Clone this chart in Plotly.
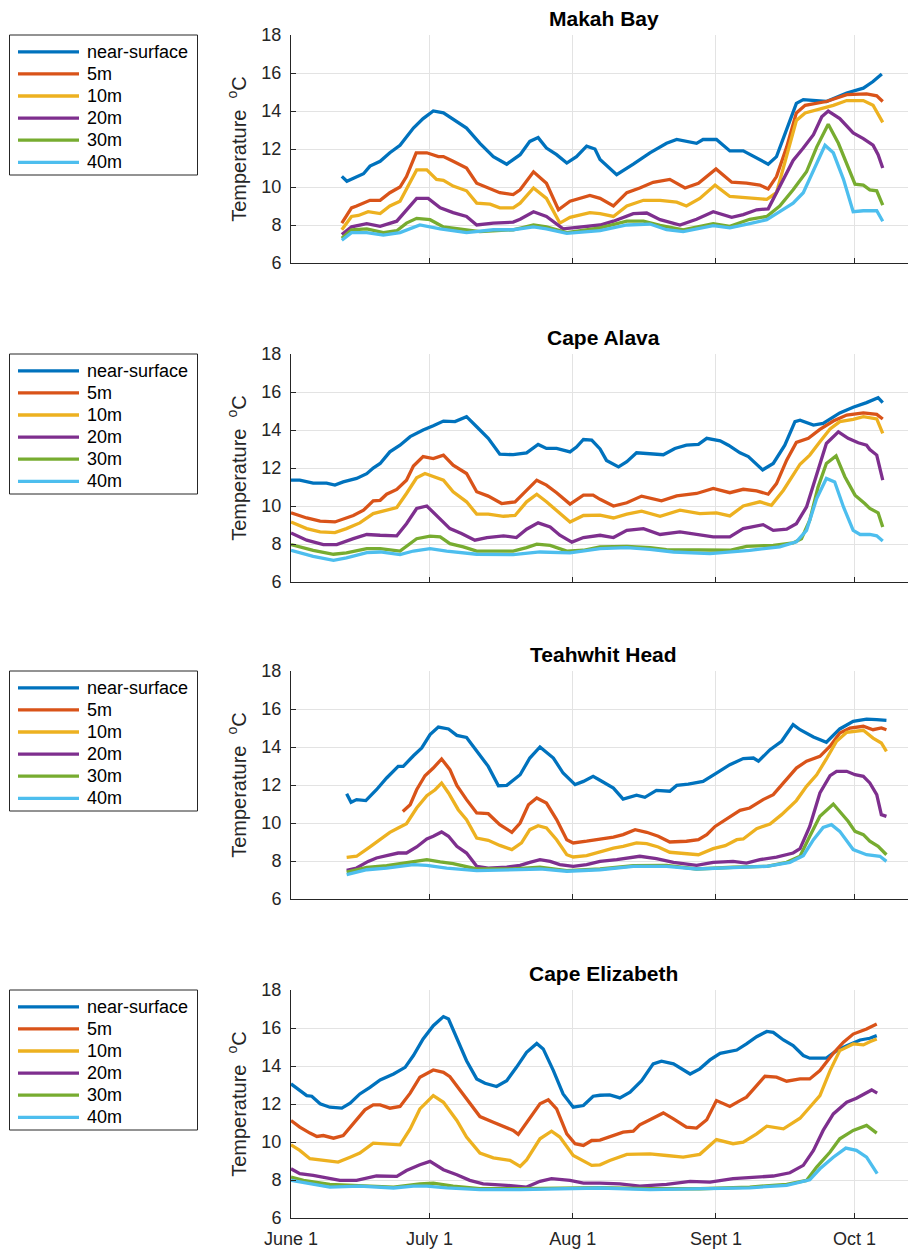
import plotly.graph_objects as go

# ---------------- data (day = days after June 1, temperature in degC) -------------
SITES = ["Makah Bay", "Cape Alava", "Teahwhit Head", "Cape Elizabeth"]
DEPTHS = ["near-surface", "5m", "10m", "20m", "30m", "40m"]
TICK_DAYS = [0, 30, 61, 92, 122]
TICK_TEXT = ["June 1", "July 1", "Aug 1", "Sept 1", "Oct 1"]
Y_TICKS = [6, 8, 10, 12, 14, 16, 18]

MAKAH_SURF = [(11.0,10.56),(12.1,10.3),(15.7,10.7),(17.1,11.1),(19.3,11.35),(21.4,11.8),(23.6,12.2),(26.5,13.1),(28.6,13.6),(30.8,14.0),(33.0,13.9),(35.1,13.55),(38.0,13.1),(40.9,12.3),(43.8,11.6),(46.7,11.2),(49.6,11.7),(51.7,12.4),(53.5,12.6),(55.3,12.05),(57.5,11.7),(59.7,11.26),(61.8,11.6),(64.0,12.15),(65.8,12.0),(66.9,11.45),(70.5,10.65),(74.1,11.2),(77.7,11.8),(81.3,12.3),(83.5,12.5),(87.8,12.3),(89.2,12.5),(92.1,12.5),(95.0,11.9),(97.9,11.9),(100.8,11.5),(103.3,11.2),(105.1,11.6),(107.3,13.0),(109.4,14.4),(110.9,14.6),(115.9,14.5),(120.3,14.95),(123.9,15.2),(126.0,15.55),(127.9,15.95)]
MAKAH_5M = [(11.0,8.1),(13.1,8.9),(14.2,9.0),(17.1,9.3),(19.3,9.3),(21.4,9.7),(23.6,10.0),(25.0,10.55),(27.1,11.8),(29.4,11.8),(31.9,11.6),(33.0,11.6),(35.1,11.35),(38.0,11.0),(40.2,10.2),(42.4,10.0),(45.2,9.7),(48.1,9.6),(49.6,9.85),(52.5,10.8),(55.3,10.2),(57.9,8.8),(60.4,9.25),(64.7,9.56),(66.9,9.4),(69.8,9.0),(72.7,9.7),(75.5,9.95),(78.4,10.25),(82.0,10.4),(85.3,9.95),(88.2,10.2),(92.0,10.95),(95.4,10.25),(98.6,10.2),(101.5,10.1),(103.3,9.9),(105.1,10.55),(107.3,12.1),(109.4,13.9),(111.3,14.3),(115.9,14.5),(120.3,14.86),(124.6,14.9),(126.8,14.8),(128.1,14.5)]
MAKAH_10M = [(11.0,7.75),(13.1,8.45),(14.6,8.5),(16.7,8.7),(19.3,8.6),(21.4,9.0),(23.6,9.25),(25.4,10.05),(27.2,10.9),(29.4,10.9),(31.5,10.4),(33.0,10.35),(35.1,10.05),(38.0,9.8),(40.2,9.15),(43.1,9.1),(45.2,8.9),(48.1,8.9),(49.6,9.15),(52.5,9.95),(55.3,9.4),(58.2,8.1),(60.4,8.4),(64.7,8.65),(66.9,8.6),(69.8,8.45),(72.7,9.0),(76.3,9.3),(79.9,9.3),(83.5,9.2),(85.6,9.0),(88.5,9.4),(91.8,10.1),(95.0,9.5),(99.3,9.4),(103.0,9.35),(105.1,9.7),(107.3,11.6),(109.4,13.5),(111.3,13.9),(114.5,14.1),(117.4,14.3),(120.3,14.55),(123.9,14.55),(126.0,14.3),(128.1,13.4)]
MAKAH_20M = [(11.0,7.5),(13.1,7.9),(16.4,8.07),(19.3,7.93),(22.9,8.2),(25.0,8.8),(27.2,9.4),(29.7,9.4),(32.3,8.9),(35.1,8.65),(38.0,8.45),(40.2,8.0),(43.8,8.1),(48.1,8.15),(49.6,8.3),(52.5,8.7),(55.3,8.45),(58.9,7.8),(62.6,7.9),(66.9,8.0),(69.8,8.2),(74.1,8.6),(77.0,8.63),(79.9,8.28),(84.2,8.0),(87.8,8.3),(91.4,8.7),(95.4,8.4),(97.9,8.55),(100.8,8.8),(103.3,8.85),(105.8,10.0),(108.7,11.4),(110.9,12.05),(113.1,12.75),(114.9,13.7),(116.3,14.0),(118.8,13.6),(121.7,12.85),(123.9,12.55),(126.0,12.2),(127.1,11.7),(128.1,11.0)]
MAKAH_30M = [(11.0,7.3),(13.1,7.75),(16.4,7.8),(20.0,7.6),(22.9,7.7),(25.0,8.1),(27.2,8.35),(30.1,8.28),(33.0,7.9),(36.6,7.8),(40.9,7.65),(48.1,7.75),(52.5,8.0),(55.3,7.9),(59.7,7.6),(66.9,7.85),(72.7,8.2),(76.3,8.2),(79.9,7.98),(84.9,7.75),(91.4,8.07),(95.0,7.93),(99.3,8.3),(103.0,8.45),(105.8,9.0),(108.7,9.85),(111.6,10.8),(113.8,12.1),(116.3,13.3),(118.5,12.3),(120.6,11.0),(122.1,10.15),(123.9,10.1),(125.3,9.85),(126.8,9.8),(128.1,9.05)]
MAKAH_40M = [(11.0,7.2),(13.1,7.6),(16.4,7.6),(20.0,7.47),(23.6,7.6),(27.9,8.0),(32.3,7.8),(38.0,7.6),(43.8,7.75),(48.1,7.75),(52.5,7.9),(55.3,7.8),(59.7,7.56),(66.9,7.7),(72.7,8.0),(77.7,8.05),(81.3,7.75),(84.9,7.65),(91.4,7.97),(95.0,7.85),(99.3,8.07),(103.0,8.28),(105.8,8.7),(108.7,9.15),(110.9,9.7),(113.1,10.9),(115.6,12.2),(117.4,11.8),(119.6,10.4),(121.7,8.7),(123.9,8.75),(126.8,8.75),(128.1,8.2)]

ALAVA_SURF = [(0,11.36),(1.9,11.36),(4.8,11.2),(7.7,11.2),(9.5,11.1),(11.3,11.27),(14.2,11.45),(16.4,11.7),(17.8,12.0),(19.3,12.24),(21.4,12.85),(23.6,13.2),(25.8,13.65),(28.6,14.0),(30.8,14.22),(33.0,14.47),(35.5,14.44),(38.0,14.7),(40.2,14.17),(42.7,13.56),(45.2,12.73),(48.1,12.7),(51.0,12.8),(53.5,13.24),(55.3,13.03),(57.5,13.03),(60.4,12.85),(61.8,13.1),(63.3,13.5),(65.1,13.47),(66.9,13.0),(68.3,12.4),(70.9,12.06),(72.7,12.33),(74.8,12.8),(77.7,12.73),(80.6,12.7),(83.1,13.03),(85.6,13.2),(88.2,13.24),(90.0,13.56),(92.9,13.43),(94.7,13.2),(97.2,12.8),(99.0,12.6),(102.1,11.9),(104.4,12.24),(106.9,13.2),(109.1,14.44),(110.2,14.52),(113.1,14.26),(115.2,14.35),(118.8,14.9),(121.7,15.2),(124.6,15.44),(127.1,15.7),(128.1,15.44)]
ALAVA_5M = [(0,9.64),(3.4,9.37),(6.3,9.2),(9.5,9.16),(13.5,9.5),(15.7,9.78),(17.8,10.27),(19.3,10.3),(20.7,10.62),(22.9,10.87),(25.0,11.36),(26.5,12.1),(28.6,12.6),(30.8,12.5),(33.0,12.68),(35.1,12.15),(38.0,11.71),(40.2,10.75),(42.7,10.52),(45.6,10.13),(48.5,10.22),(51.0,10.83),(53.2,11.36),(55.3,11.1),(57.5,10.7),(60.4,10.1),(63.3,10.57),(65.4,10.57),(66.9,10.35),(69.8,10.0),(72.7,10.17),(75.9,10.52),(80.2,10.27),(83.5,10.53),(87.8,10.66),(91.4,10.92),(95.0,10.7),(97.9,10.88),(100.8,10.8),(103.3,10.62),(105.1,11.18),(107.3,12.41),(109.4,13.35),(112.0,13.56),(114.5,14.03),(117.4,14.47),(120.3,14.79),(123.9,14.9),(126.8,14.82),(128.1,14.58)]
ALAVA_10M = [(0,9.16),(3.4,8.81),(6.3,8.64),(9.5,8.6),(12.0,8.81),(14.9,9.11),(17.8,9.6),(20.7,9.78),(22.9,9.92),(25.0,10.66),(27.2,11.48),(29.0,11.71),(30.8,11.54),(33.0,11.36),(35.1,10.75),(38.0,10.22),(40.2,9.57),(42.7,9.57),(46.0,9.46),(48.5,9.5),(51.0,10.22),(53.2,10.62),(55.3,10.22),(57.5,9.78),(60.4,9.16),(63.3,9.5),(66.9,9.52),(69.8,9.37),(72.7,9.57),(75.9,9.73),(79.9,9.46),(84.2,9.78),(88.5,9.6),(92.1,9.64),(95.0,9.48),(97.9,10.0),(101.5,10.22),(104.0,10.04),(106.6,10.83),(110.2,12.2),(112.3,12.68),(114.5,13.38),(116.7,14.05),(118.8,14.44),(121.7,14.56),(123.9,14.7),(126.8,14.58),(128.1,13.82)]
ALAVA_20M = [(0,8.58),(3.4,8.2),(7.0,7.97),(9.9,7.97),(13.5,8.28),(16.4,8.5),(19.3,8.46),(22.9,8.43),(25.0,9.07),(27.2,9.87),(29.4,10.0),(31.5,9.51),(34.4,8.81),(36.9,8.55),(39.8,8.2),(42.4,8.34),(46.0,8.43),(48.8,8.34),(51.0,8.78),(53.5,9.11),(56.1,8.9),(58.2,8.46),(60.8,8.1),(63.3,8.34),(66.9,8.46),(69.8,8.34),(72.7,8.72),(76.3,8.81),(79.9,8.5),(84.2,8.64),(87.8,8.5),(91.4,8.37),(95.0,8.37),(97.9,8.81),(102.2,9.02),(104.4,8.72),(107.3,8.78),(109.4,9.07),(111.6,9.95),(113.8,11.71),(115.9,13.29),(118.5,13.9),(120.6,13.56),(122.8,13.33),(124.6,13.2),(125.3,12.97),(126.8,12.68),(128.1,11.36)]
ALAVA_30M = [(0,7.97),(4.8,7.67),(9.2,7.46),(12.0,7.53),(16.4,7.76),(19.3,7.76),(23.6,7.63),(27.2,8.28),(30.1,8.41),(32.3,8.37),(34.4,8.02),(37.3,7.85),(40.2,7.63),(44.5,7.62),(48.1,7.63),(51.0,7.81),(53.2,7.99),(56.1,7.93),(59.7,7.63),(63.3,7.67),(66.9,7.85),(72.7,7.88),(77.7,7.81),(81.3,7.7),(88.5,7.67),(95.0,7.67),(98.6,7.88),(104.4,7.93),(108.7,8.06),(110.5,8.28),(112.3,9.25),(114.1,11.0),(115.9,12.24),(118.0,12.64),(119.9,11.54),(122.1,10.57),(124.2,10.13),(125.3,9.87),(127.1,9.64),(128.1,8.9)]
ALAVA_40M = [(0,7.67),(4.8,7.35),(9.2,7.14),(12.0,7.27),(16.4,7.55),(19.3,7.58),(23.6,7.44),(26.5,7.63),(30.1,7.76),(33.7,7.63),(40.2,7.46),(48.1,7.44),(53.9,7.58),(60.4,7.53),(66.9,7.76),(72.7,7.81),(77.7,7.72),(82.8,7.58),(90.7,7.49),(99.3,7.67),(105.8,7.85),(109.4,8.11),(111.6,8.72),(113.8,10.39),(115.9,11.45),(117.7,11.27),(119.6,9.95),(121.7,8.72),(123.2,8.5),(125.3,8.5),(126.8,8.43),(128.1,8.16)]

TEAH_SURF = [(12.05,11.54),(13.0,11.09),(14.2,11.23),(16.2,11.18),(18.5,11.75),(20.7,12.37),(23.2,12.98),(24.3,12.98),(26.5,13.54),(28.3,13.95),(30.1,14.65),(31.9,15.05),(34.1,14.95),(35.9,14.61),(38.0,14.5),(40.2,13.77),(42.7,12.98),(44.9,11.96),(46.7,11.98),(49.6,12.54),(51.7,13.42),(53.9,14.0),(56.8,13.42),(58.9,12.63),(61.5,12.02),(63.3,12.19),(65.4,12.46),(66.9,12.25),(69.8,11.84),(71.9,11.26),(74.8,11.46),(76.6,11.35),(79.1,11.72),(82.0,11.67),(83.5,11.98),(86.0,12.05),(89.2,12.19),(92.1,12.63),(95.0,13.07),(97.9,13.39),(100.1,13.42),(101.2,13.25),(103.7,13.86),(106.2,14.3),(108.7,15.18),(110.2,14.91),(113.1,14.53),(115.9,14.25),(118.8,14.95),(121.7,15.35),(124.6,15.47),(126.8,15.44),(128.9,15.4)]
TEAH_5M = [(24.2,10.61),(25.8,10.96),(27.2,11.75),(29.0,12.49),(30.8,12.89),(32.6,13.37),(34.4,12.81),(35.9,11.98),(38.0,11.23),(40.2,10.53),(42.7,10.49),(45.2,9.91),(47.8,9.51),(49.6,10.0),(51.4,10.96),(53.2,11.32),(55.3,11.05),(57.5,10.18),(59.7,9.12),(61.1,8.95),(64.0,9.04),(66.2,9.12),(69.8,9.26),(71.9,9.39),(74.5,9.65),(77.0,9.51),(79.5,9.3),(82.0,9.0),(85.6,9.04),(88.2,9.12),(90.0,9.39),(91.8,9.82),(94.0,10.18),(97.2,10.67),(99.3,10.79),(102.2,11.23),(104.4,11.49),(106.9,12.19),(109.4,12.89),(111.6,13.25),(114.5,13.51),(116.7,14.04),(118.8,14.74),(121.0,15.0),(123.9,15.09),(126.0,14.91),(127.8,15.0),(128.9,14.91)]
TEAH_10M = [(12.05,8.19),(14.2,8.25),(17.1,8.74),(19.3,9.12),(21.4,9.51),(23.2,9.74),(25.0,9.96),(27.2,10.79),(29.4,11.44),(31.2,11.75),(32.6,12.1),(34.1,11.58),(36.2,10.7),(38.0,10.18),(40.2,9.21),(42.7,9.09),(45.2,8.82),(47.8,8.6),(49.9,8.95),(51.7,9.65),(53.5,9.86),(55.3,9.74),(57.5,9.12),(59.7,8.33),(61.1,8.21),(64.0,8.28),(66.9,8.47),(69.8,8.68),(71.9,8.77),(74.8,8.95),(77.0,8.91),(79.5,8.74),(82.0,8.46),(84.9,8.39),(88.2,8.33),(91.4,8.65),(94.0,8.81),(96.5,9.12),(97.9,9.16),(100.8,9.7),(103.7,9.95),(106.2,10.44),(109.4,11.18),(111.6,11.93),(113.8,12.54),(115.9,13.37),(118.1,14.3),(120.3,14.77),(122.4,14.82),(123.9,14.88),(126.0,14.47),(127.8,14.21),(128.9,13.77)]
TEAH_20M = [(12.05,7.51),(14.2,7.63),(16.7,7.98),(18.5,8.16),(20.7,8.28),(23.2,8.42),(25.0,8.42),(27.2,8.74),(29.4,9.16),(30.8,9.3),(32.6,9.53),(34.1,9.3),(35.9,8.77),(38.0,8.42),(40.2,7.72),(42.7,7.63),(46.7,7.68),(49.6,7.77),(51.7,7.93),(53.9,8.07),(56.1,7.98),(58.2,7.81),(61.1,7.72),(64.0,7.81),(66.9,7.98),(70.5,8.07),(75.5,8.25),(79.1,8.12),(82.8,7.93),(87.8,7.77),(91.4,7.93),(95.7,7.98),(98.6,7.89),(101.5,8.07),(105.1,8.21),(108.7,8.42),(110.2,8.65),(112.3,9.82),(114.5,11.58),(116.7,12.49),(118.1,12.72),(120.3,12.72),(122.1,12.54),(123.9,12.46),(125.3,12.11),(126.8,11.49),(127.8,10.44),(128.9,10.35)]
TEAH_30M = [(12.05,7.42),(16.4,7.67),(20.7,7.75),(25.0,7.89),(29.4,8.07),(32.3,7.95),(35.1,7.86),(40.2,7.58),(48.1,7.58),(53.9,7.67),(59.7,7.49),(66.9,7.58),(74.1,7.75),(81.3,7.77),(87.8,7.58),(95.7,7.67),(103.0,7.72),(107.3,7.93),(110.2,8.25),(112.3,9.3),(114.5,10.35),(117.4,11.0),(118.8,10.61),(120.6,10.09),(122.1,9.56),(123.9,9.39),(125.3,9.04),(127.1,8.77),(128.9,8.33)]
TEAH_40M = [(12.05,7.28),(16.4,7.54),(20.7,7.63),(26.5,7.81),(29.4,7.77),(33.7,7.63),(40.2,7.49),(48.1,7.54),(53.9,7.58),(59.7,7.46),(66.9,7.54),(74.1,7.72),(81.3,7.72),(87.8,7.58),(95.7,7.67),(103.0,7.72),(108.0,7.93),(110.9,8.28),(113.1,9.12),(115.2,9.77),(117.0,9.91),(118.8,9.56),(121.7,8.6),(124.6,8.33),(127.5,8.25),(128.9,7.98)]

ELIZ_SURF = [(0,13.06),(1.9,12.71),(3.4,12.44),(4.5,12.41),(6.3,12.01),(8.4,11.83),(11.0,11.78),(12.8,12.04),(14.9,12.53),(17.1,12.88),(19.3,13.27),(22.2,13.58),(24.7,13.93),(26.5,14.55),(28.6,15.42),(30.8,16.12),(33.0,16.6),(34.1,16.47),(35.9,15.42),(38.0,14.28),(40.2,13.32),(42.0,13.09),(44.5,12.92),(46.7,13.23),(48.8,13.93),(51.0,14.72),(53.2,15.19),(54.6,14.9),(56.8,13.76),(58.9,12.53),(61.1,11.83),(63.3,11.92),(65.4,12.41),(66.9,12.46),(69.0,12.48),(71.2,12.32),(73.4,12.62),(75.9,13.23),(78.4,14.11),(80.2,14.25),(82.8,14.11),(86.4,13.58),(88.5,13.85),(90.7,14.32),(92.9,14.67),(96.5,14.84),(98.6,15.16),(100.8,15.54),(103.0,15.82),(104.4,15.77),(106.6,15.37),(108.7,15.07),(110.9,14.55),(112.3,14.41),(115.9,14.42),(118.1,14.81),(120.3,15.07),(123.2,15.37),(125.3,15.46),(126.8,15.6)]
ELIZ_5M = [(0,11.13),(1.9,10.78),(4.1,10.47),(5.6,10.29),(7.0,10.34),(9.2,10.2),(11.3,10.34),(13.5,10.96),(16.0,11.69),(17.8,11.95),(19.3,11.95),(21.4,11.78),(23.6,11.87),(25.8,12.57),(27.9,13.41),(30.8,13.79),(33.0,13.67),(34.4,13.44),(36.6,12.71),(38.7,12.01),(40.9,11.34),(43.8,11.04),(46.7,10.78),(48.1,10.61),(49.2,10.4),(51.0,11.04),(53.9,12.01),(55.7,12.22),(57.5,11.74),(59.7,10.43),(61.5,9.91),(63.3,9.82),(65.1,10.08),(66.9,10.1),(69.0,10.29),(71.9,10.52),(74.1,10.57),(75.5,10.9),(77.7,11.17),(80.6,11.53),(82.8,11.22),(85.6,10.78),(87.8,10.73),(90.0,11.17),(92.1,12.18),(95.0,11.87),(97.2,12.18),(98.6,12.36),(100.8,12.97),(102.6,13.46),(105.1,13.41),(107.3,13.2),(110.2,13.32),(112.3,13.32),(114.5,13.76),(117.4,14.67),(119.6,15.25),(121.7,15.68),(124.6,15.95),(126.8,16.21)]
ELIZ_10M = [(0,9.85),(1.9,9.56),(4.1,9.12),(6.3,9.06),(8.4,9.03),(10.2,8.94),(12.8,9.2),(14.9,9.42),(17.8,9.94),(20.7,9.91),(23.6,9.85),(25.8,10.69),(27.9,11.74),(30.8,12.44),(33.0,12.09),(35.9,11.13),(38.0,10.26),(40.9,9.42),(43.8,9.17),(47.4,9.03),(49.6,8.71),(51.0,9.06),(53.9,10.17),(56.4,10.57),(58.2,10.26),(61.1,9.29),(63.3,8.98),(65.1,8.77),(66.9,8.8),(69.0,9.03),(72.7,9.35),(77.7,9.38),(81.3,9.29),(84.9,9.2),(88.5,9.35),(92.1,10.13),(95.7,9.91),(97.9,9.99),(100.8,10.43),(103.0,10.83),(106.6,10.69),(110.2,11.25),(112.3,11.83),(114.5,12.44),(116.7,13.76),(118.8,14.81),(121.7,15.16),(123.9,15.11),(125.3,15.28),(126.8,15.42)]
ELIZ_20M = [(0,8.59),(1.9,8.33),(4.8,8.24),(7.7,8.12),(10.6,7.98),(14.2,7.98),(18.5,8.21),(22.9,8.19),(25.0,8.5),(27.9,8.8),(30.1,8.98),(33.0,8.54),(35.9,8.28),(38.7,7.98),(41.6,7.8),(46.7,7.72),(51.0,7.63),(53.9,7.93),(56.4,8.07),(60.4,7.98),(63.3,7.84),(66.9,7.84),(71.2,7.8),(75.5,7.68),(81.3,7.77),(86.4,7.93),(90.7,7.89),(95.7,8.07),(100.1,8.12),(104.4,8.21),(108.0,8.38),(110.9,8.77),(113.1,9.56),(115.2,10.61),(117.4,11.48),(120.3,12.09),(122.4,12.3),(124.6,12.62),(125.7,12.74),(126.9,12.57)]
ELIZ_30M = [(0,8.15),(2.7,7.98),(8.4,7.77),(14.9,7.72),(22.2,7.63),(27.9,7.8),(30.8,7.84),(35.1,7.68),(40.9,7.54),(49.6,7.54),(58.9,7.58),(66.9,7.6),(77.7,7.54),(88.5,7.54),(99.3,7.63),(107.3,7.77),(111.6,7.98),(113.8,8.68),(116.7,9.47),(118.8,10.17),(121.7,10.61),(124.6,10.87),(126.8,10.47)]
ELIZ_40M = [(0,7.98),(2.7,7.86),(8.4,7.63),(14.9,7.68),(22.2,7.58),(26.5,7.68),(29.4,7.68),(33.7,7.59),(40.9,7.49),(49.6,7.49),(58.9,7.54),(66.9,7.58),(77.7,7.49),(88.5,7.54),(99.3,7.59),(107.3,7.72),(112.3,8.01),(114.5,8.59),(117.4,9.2),(120.1,9.68),(122.4,9.56),(124.6,9.2),(126.9,8.33)]

SITE_SERIES = [
    [MAKAH_SURF, MAKAH_5M, MAKAH_10M, MAKAH_20M, MAKAH_30M, MAKAH_40M],
    [ALAVA_SURF, ALAVA_5M, ALAVA_10M, ALAVA_20M, ALAVA_30M, ALAVA_40M],
    [TEAH_SURF, TEAH_5M, TEAH_10M, TEAH_20M, TEAH_30M, TEAH_40M],
    [ELIZ_SURF, ELIZ_5M, ELIZ_10M, ELIZ_20M, ELIZ_30M, ELIZ_40M],
]

# ---------------- style / layout -------------------------------------------------
# The page body adds an 8px margin, so the figure is 8px smaller and every
# window-pixel position below is shifted by PAGE_OFF.
PAGE_OFF = 8
WIN_W, WIN_H = 916, 1252
W, H = WIN_W - PAGE_OFF, WIN_H - PAGE_OFF
COLORS = ["#0072BD", "#D95319", "#EDB120", "#7E2F8E", "#77AC30", "#4DBEEE"]
FONT = "Liberation Sans, Arial, Helvetica, sans-serif"
TXT = "#262626"
GRID = "#e3e3e3"
PANEL_TOP = [35, 354, 671, 990]      # window pixels
PANEL_H = 228
X_LEFT = 291                          # window pixels
X_RANGE = [0, 135.3]
LINE_W = 3.3

# legend box geometry (window pixels, rows relative to panel top)
LEG_X0, LEG_X1, LEG_H = 9.5, 197.5, 140
LEG_ROW0, LEG_ROW_STEP = 16.8, 22.1
LEG_LINE_X0, LEG_LINE_X1, LEG_TEXT_X = 18, 79, 85


def px(xp):
    return (xp - PAGE_OFF) / W


def py(yp):
    return 1 - (yp - PAGE_OFF) / H


fig = go.Figure()
layout = dict(width=W, height=H, margin=dict(l=0, r=0, t=0, b=0, autoexpand=False),
              paper_bgcolor="white", plot_bgcolor="white",
              font=dict(family=FONT, color=TXT, size=17), showlegend=False)
annotations = []
shapes = []

for i, (site, series) in enumerate(zip(SITES, SITE_SERIES)):
    n = i + 1
    xa = "x" if n == 1 else f"x{n}"
    ya = "y" if n == 1 else f"y{n}"
    for name, pts, col in zip(DEPTHS, series, COLORS):
        days = [p[0] for p in pts]
        temps = [p[1] for p in pts]
        fig.add_trace(go.Scatter(x=days, y=temps, mode="lines", name=name,
                                 line=dict(color=col, width=LINE_W),
                                 xaxis=xa, yaxis=ya, showlegend=False,
                                 hoverinfo="skip"))
    top = PANEL_TOP[i]
    ydom = [py(top + PANEL_H), py(top)]
    last = (n == 4)
    layout["xaxis" if n == 1 else f"xaxis{n}"] = dict(
        domain=[px(X_LEFT), 1.0], range=X_RANGE, anchor=ya, automargin=False,
        tickmode="array", tickvals=TICK_DAYS, ticktext=TICK_TEXT,
        showticklabels=last, ticks="inside", ticklen=5, tickcolor=TXT,
        ticklabelstandoff=4,
        showline=True, linecolor=TXT, linewidth=1,
        showgrid=True, gridcolor=GRID, gridwidth=1, zeroline=False,
        tickfont=dict(size=18, color=TXT, family=FONT))
    layout["yaxis" if n == 1 else f"yaxis{n}"] = dict(
        domain=ydom, range=[6, 18], anchor=xa, automargin=False,
        tickmode="array", tickvals=Y_TICKS,
        ticks="inside", ticklen=5, tickcolor=TXT, ticklabelstandoff=5,
        showline=True, linecolor=TXT, linewidth=1,
        showgrid=True, gridcolor=GRID, gridwidth=1, zeroline=False,
        tickfont=dict(size=18, color=TXT, family=FONT),
        title=dict(text="Temperature  <sup>o</sup>C",
                   font=dict(size=20, color=TXT, family=FONT), standoff=9))

    # legend drawn as a boxed key beside each panel
    shapes.append(dict(type="rect", xref="paper", yref="paper",
                       x0=px(LEG_X0), x1=px(LEG_X1), y0=py(top), y1=py(top + LEG_H),
                       line=dict(color=TXT, width=1), fillcolor="white", layer="above"))
    for k, (name, col) in enumerate(zip(DEPTHS, COLORS)):
        yrow = top + LEG_ROW0 + k * LEG_ROW_STEP
        shapes.append(dict(type="line", xref="paper", yref="paper",
                           x0=px(LEG_LINE_X0), x1=px(LEG_LINE_X1), y0=py(yrow), y1=py(yrow),
                           line=dict(color=col, width=LINE_W), layer="above"))
        annotations.append(dict(text=name, xref="paper", yref="paper",
                                x=px(LEG_TEXT_X), y=py(yrow), xanchor="left", yanchor="middle",
                                showarrow=False,
                                font=dict(size=18, color="#000000", family=FONT)))

    annotations.append(dict(text=f"<b>{site}</b>", xref="paper", yref="paper",
                            x=(px(X_LEFT) + 1.0) / 2, y=py(top - 3),
                            xanchor="center", yanchor="bottom", showarrow=False,
                            font=dict(size=21, color="#000000", family=FONT)))

layout["annotations"] = annotations
layout["shapes"] = shapes
fig.update_layout(**layout)
fig.write_html("out.html")
